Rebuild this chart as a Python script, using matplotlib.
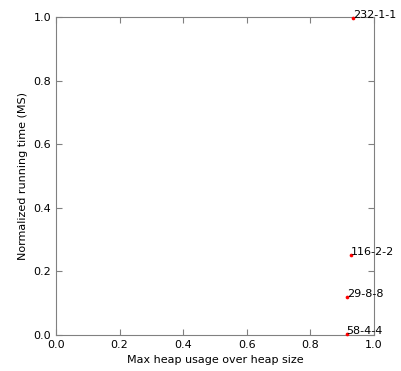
import matplotlib
matplotlib.use("Agg")
import matplotlib.pyplot as plt

# data
labels = ["232-1-1", "116-2-2", "29-8-8", "58-4-4"]
heap_usage = [0.935, 0.927, 0.916, 0.914]
run_time = [0.997, 0.252, 0.118, 0.002]


def main():
  plt.rcParams["font.family"] = ["DejaVu Sans"]
  plt.rcParams["font.size"] = 8

  fig = plt.figure(figsize=(4.01, 3.71), dpi=100)
  ax = fig.add_axes([56 / 401, 36 / 371, 318 / 401, 318 / 371])

  ax.scatter(heap_usage, run_time, s=7, c="red", linewidths=0, zorder=3, clip_on=False)
  for x, y, t in zip(heap_usage, run_time, labels):
    ax.text(x, y, t, fontsize=8)

  ax.set_xlim(0, 1)
  ax.set_ylim(0, 1)
  ax.set_xticks([0.0, 0.2, 0.4, 0.6, 0.8, 1.0])
  ax.set_yticks([0.0, 0.2, 0.4, 0.6, 0.8, 1.0])
  ax.tick_params(direction="in", top=True, right=True, length=4, color="#808080")
  for s in ax.spines.values():
    s.set_color("#808080")

  ax.set_xlabel("Max heap usage over heap size")
  ax.set_ylabel("Normalized running time (MS)")

  fig.savefig("out.png", dpi=100)


if __name__ == '__main__':
    main()
